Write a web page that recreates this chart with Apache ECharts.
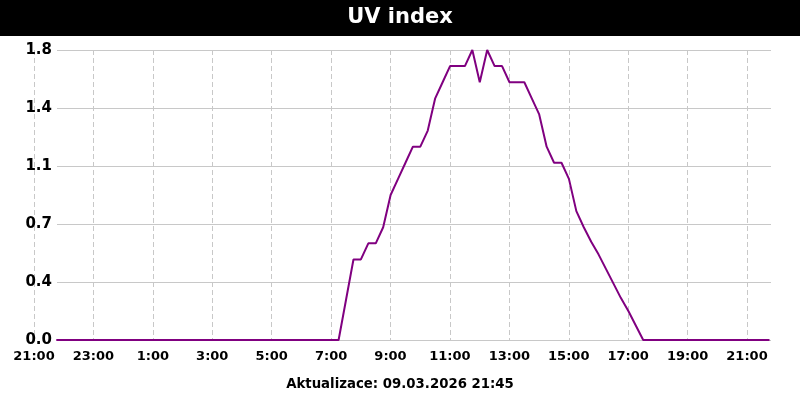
<!DOCTYPE html>
<html>
<head>
<meta charset="utf-8">
<title>UV index</title>
<script src="https://cdn.jsdelivr.net/npm/echarts@6/dist/echarts.min.js"></script>
<style>
  html, body { margin: 0; padding: 0; background: #fff; }
  #chart { width: 800px; height: 400px; }
</style>
</head>
<body>
<div id="chart"></div>
<script>
// data: one reading every 15 minutes, from 08.03.2026 21:45 to 09.03.2026 21:45
const startHour = 0.75 // hours after 21:00 of the previous day
const stepHours = 0.25
const uvIndex = [
  // 21:45 .. 07:15
  0, 0, 0, 0, 0, 0, 0, 0, 0, 0,
  0, 0, 0, 0, 0, 0, 0, 0, 0, 0,
  0, 0, 0, 0, 0, 0, 0, 0, 0, 0,
  0, 0, 0, 0, 0, 0, 0, 0, 0,
  // 07:30 .. 17:15
  0.25, 0.5, 0.5, 0.6, 0.6, 0.7, 0.9, 1.0, 1.1, 1.2,
  1.2, 1.3, 1.5, 1.6, 1.7, 1.7, 1.7, 1.8, 1.6, 1.8,
  1.7, 1.7, 1.6, 1.6, 1.6, 1.5, 1.4, 1.2, 1.1, 1.1,
  1.0, 0.8, 0.7, 0.61, 0.53, 0.44, 0.35, 0.26, 0.18, 0.09,
  // 17:30 .. 21:45
  0, 0, 0, 0, 0, 0, 0, 0, 0,
  0, 0, 0, 0, 0, 0, 0, 0, 0
]
const yTicks = [0, 1.8, 0.36] // min, max, interval
const titleText = 'UV index'
const updatedText = 'Aktualizace: 09.03.2026 21:45'

const labelFont = {
  fontFamily: 'DejaVu Sans',
  fontWeight: 'bold',
  color: '#000'
}

const chart = echarts.init(document.getElementById('chart'), null, { renderer: 'canvas' })

const option = {
  animation: false,
  backgroundColor: '#fff',
  grid: [
    // series grid: 21:00 .. 21:48 next day
    { left: 34, right: 29, top: 50, bottom: 60 },
    // value grid: horizontal lines and y labels
    { left: 57, right: 29, top: 50, bottom: 60 },
    // hour grid: dashed lines and hour labels, 21:00 .. 21:00
    { left: 34, right: 53, top: 50, bottom: 60 }
  ],
  xAxis: [
    {
      gridIndex: 0,
      type: 'value',
      min: 0,
      max: 24.8,
      show: false
    },
    {
      gridIndex: 1,
      type: 'value',
      min: 0,
      max: 1,
      show: false
    },
    {
      gridIndex: 2,
      type: 'value',
      min: 0,
      max: 24,
      interval: 2,
      axisLine: { show: false },
      axisTick: { show: false },
      splitLine: {
        show: true,
        lineStyle: { color: '#c8c8c8', width: 1, type: [5, 3] }
      },
      axisLabel: {
        ...labelFont,
        fontSize: 13,
        margin: 10,
        formatter: v => ((21 + v) % 24) + ':00'
      }
    }
  ],
  yAxis: [
    {
      gridIndex: 0,
      type: 'value',
      min: yTicks[0],
      max: yTicks[1],
      show: false
    },
    {
      gridIndex: 1,
      type: 'value',
      min: yTicks[0],
      max: yTicks[1],
      interval: yTicks[2],
      axisLine: { show: false },
      axisTick: { show: false },
      splitLine: {
        show: true,
        lineStyle: { color: '#c8c8c8', width: 1 }
      },
      axisLabel: {
        ...labelFont,
        fontSize: 15,
        margin: 5,
        formatter: v => v.toFixed(1)
      },
      z: 3
    },
    {
      gridIndex: 2,
      type: 'value',
      min: 0,
      max: 1,
      show: false
    }
  ],
  graphic: [
    {
      type: 'rect',
      shape: { x: 0, y: 0, width: 800, height: 36 },
      style: { fill: '#000' },
      z: 10
    },
    {
      type: 'text',
      x: 400,
      y: 18,
      style: {
        text: titleText,
        fill: '#fff',
        font: 'bold 21px "DejaVu Sans"',
        textAlign: 'center',
        textVerticalAlign: 'middle'
      },
      z: 11
    },
    {
      type: 'text',
      x: 400,
      y: 385,
      style: {
        text: updatedText,
        fill: '#000',
        font: 'bold 13.3px "DejaVu Sans"',
        textAlign: 'center',
        textVerticalAlign: 'middle'
      }
    }
  ],
  series: [
    {
      name: 'UV index',
      type: 'line',
      xAxisIndex: 0,
      yAxisIndex: 0,
      showSymbol: false,
      smooth: false,
      lineStyle: { color: '#800080', width: 2 },
      itemStyle: { color: '#800080' },
      z: 5,
      data: uvIndex.map((v, i) => [startHour + i * stepHours, v])
    }
  ]
}

chart.setOption(option)
</script>
</body>
</html>
